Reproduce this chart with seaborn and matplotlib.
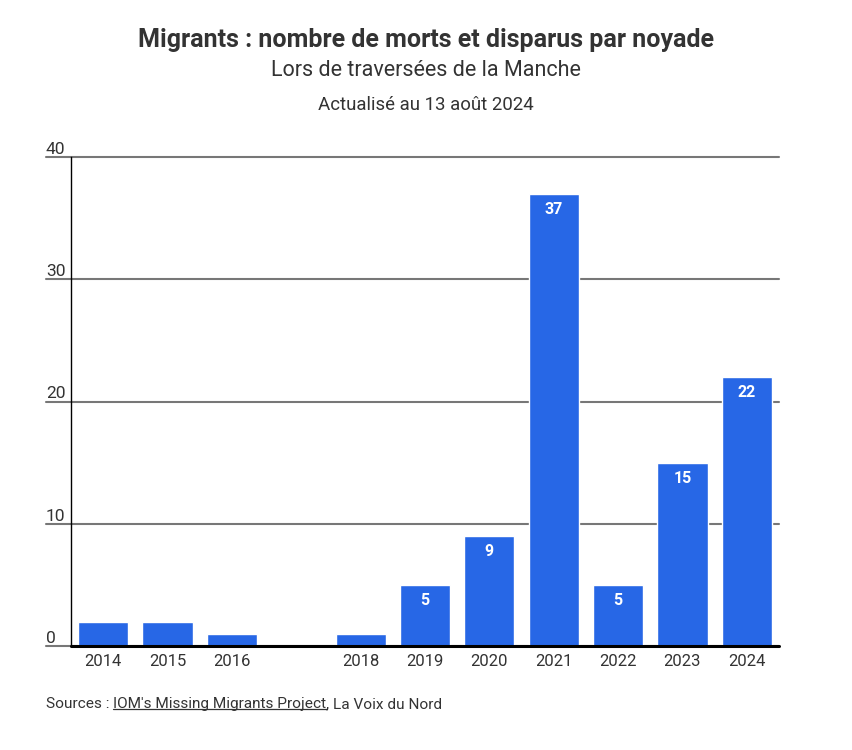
import numpy as np
import pandas as pd
import matplotlib
matplotlib.use("Agg")
import matplotlib.pyplot as plt
import seaborn as sns

# data
years = ["2014", "2015", "2016", "2017", "2018", "2019", "2020", "2021", "2022", "2023", "2024"]
deaths = [2, 2, 1, 0, 1, 5, 9, 37, 5, 15, 22]
tick_labels = ["2014", "2015", "2016", "", "2018", "2019", "2020", "2021", "2022", "2023", "2024"]
y_ticks = [0, 10, 20, 30, 40]

df = pd.DataFrame({"year": years, "deaths": deaths})

sns.set_theme(style="white")
plt.rcParams['font.family'] = ['Roboto', 'DejaVu Sans']

BLUE = "#2767e6"
TEXT = "#333333"

fig = plt.figure(figsize=(8.52, 7.5), dpi=100)
ax = fig.add_axes([71/852, 1 - 646/750, (779 - 71)/852, (646 - 157)/750])

sns.barplot(data=df, x="year", y="deaths", color=BLUE, saturation=1,
            width=0.78, ax=ax, order=years)

ax.set_ylim(0, 40)
ax.set_xlim(-0.5, len(years) - 0.5)
ax.set_xlabel("")
ax.set_ylabel("")

# gridlines that run out to the left under the tick labels
ext = (71 - 46) / (779 - 71)
for t in y_ticks:
    ax.plot([-ext, 1], [t, t], transform=ax.get_yaxis_transform(),
            color="#777777", lw=1.5, clip_on=False, zorder=0)
ax.plot([0, 1], [0, 0], transform=ax.get_yaxis_transform(),
        color="black", lw=2.2, clip_on=False, zorder=5)

ax.set_yticks(y_ticks)
ax.set_yticklabels([])
for t in y_ticks:
    ax.text(-ext, t, str(t), transform=ax.get_yaxis_transform(),
            ha="left", va="bottom", fontsize=12.5, color=TEXT)

ax.set_xticks(range(len(years)))
ax.set_xticklabels(tick_labels, fontsize=12, color=TEXT)
ax.tick_params(axis="x", length=0, pad=6)
ax.tick_params(axis="y", length=0)

sns.despine(ax=ax, top=True, right=True, bottom=True)
ax.spines["left"].set_color("black")
ax.spines["left"].set_linewidth(1)

# value labels inside the bars
for i, v in enumerate(deaths):
    if v >= 5:
        ax.annotate(str(v), (i, v), xytext=(0, -6), textcoords="offset points",
                    ha="center", va="top", color="white", fontsize=11.5,
                    fontweight="bold")

fig.text(0.5, 1 - 40/750, "Migrants : nombre de morts et disparus par noyade",
         ha="center", va="center", fontsize=18, fontweight="bold", color=TEXT)
fig.text(0.5, 1 - 71/750, "Lors de traversées de la Manche",
         ha="center", va="center", fontsize=15.5, color=TEXT)
fig.text(0.5, 1 - 105/750, "Actualisé au 13 août 2024",
         ha="center", va="center", fontsize=13.4, color=TEXT)

# sources line, with the underlined link
fig.canvas.draw()
renderer = fig.canvas.get_renderer()
x0 = 46 / 852
ys = 1 - 704 / 750
t1 = fig.text(x0, ys, "Sources : ", ha="left", va="center", fontsize=11.1, color=TEXT)
bb1 = t1.get_window_extent(renderer)
x1 = bb1.x1 / fig.bbox.width
t2 = fig.text(x1, ys, "IOM's Missing Migrants Project", ha="left", va="center",
              fontsize=11.1, color=TEXT)
bb2 = t2.get_window_extent(renderer)
x2 = bb2.x1 / fig.bbox.width
uy = (bb2.y0 + 2) / fig.bbox.height
fig.add_artist(plt.Line2D([x1, x2], [uy, uy], transform=fig.transFigure,
                          color=TEXT, lw=0.9))
fig.text(x2, ys, ", La Voix du Nord", ha="left", va="center", fontsize=11.1, color=TEXT)

fig.savefig("out.png", dpi=100)
